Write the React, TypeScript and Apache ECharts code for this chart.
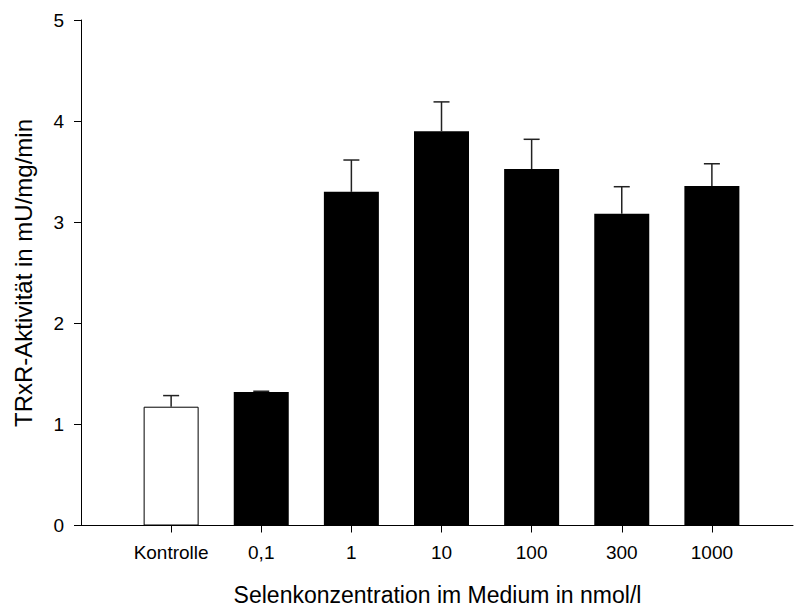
import React, { useEffect, useRef } from "react";
import * as echarts from "echarts";

const categories = ["Kontrolle", "0,1", "1", "10", "100", "300", "1000"];
const values = [1.175, 1.32, 3.3, 3.9, 3.526, 3.084, 3.358];
const errors = [0.11, 0.008, 0.315, 0.29, 0.294, 0.267, 0.22];
const yTicks = [0, 1, 2, 3, 4, 5];
const xTitle = "Selenkonzentration im Medium in nmol/l";
const yTitle = "TRxR-Aktivität in mU/mg/min";

const FONT = "'Liberation Sans', Arial, Helvetica, sans-serif";

export default function App() {
  const ref = useRef<HTMLDivElement>(null);
  useEffect(() => {
    if (!ref.current) return;
    const chart = echarts.init(ref.current, undefined, { renderer: "svg" });
    const idx = categories.map((_, i) => i);
    chart.setOption({
      animation: false,
      backgroundColor: "#fff",
      grid: { left: 81, right: 1, top: 20, bottom: 86.5, containLabel: false },
      xAxis: {
        type: "value",
        min: -1,
        max: 6.9,
        interval: 1,
        splitLine: { show: false },
        axisLine: { show: true, onZero: false, lineStyle: { color: "#000", width: 1 } },
        axisTick: {
          show: true,
          length: 7,
          customValues: idx,
          lineStyle: { color: "#000", width: 1 },
        },
        axisLabel: {
          show: true,
          customValues: idx,
          margin: 17,
          color: "#000",
          fontSize: 19,
          fontFamily: FONT,
          formatter: (v: number) => categories[Math.round(v)] ?? "",
        },
      },
      yAxis: {
        type: "value",
        min: yTicks[0],
        max: yTicks[yTicks.length - 1],
        interval: 1,
        splitLine: { show: false },
        axisLine: { show: true, onZero: false, lineStyle: { color: "#000", width: 1 } },
        axisTick: { show: true, length: 7, lineStyle: { color: "#000", width: 1 } },
        axisLabel: { margin: 17, color: "#000", fontSize: 19, fontFamily: FONT },
      },
      graphic: [
        {
          type: "text",
          x: 437.5,
          y: 595,
          style: {
            text: xTitle,
            fontSize: 23,
            fontFamily: FONT,
            fill: "#000",
            align: "center",
            verticalAlign: "middle",
          },
        },
        {
          type: "text",
          x: 23,
          y: 273,
          rotation: Math.PI / 2,
          style: {
            text: yTitle,
            fontSize: 24,
            fontFamily: FONT,
            fill: "#000",
            align: "center",
            verticalAlign: "middle",
          },
        },
      ],
      series: [
        {
          type: "bar",
          barWidth: 55,
          data: values.map((v, i) => ({
            value: [i, v],
            itemStyle:
              i === 0
                ? { color: "#fff", borderColor: "#000", borderWidth: 1 }
                : { color: "#000" },
          })),
        },
        {
          type: "custom",
          z: 5,
          data: values.map((v, i) => [i, v, errors[i]]),
          renderItem: (params: any, api: any) => {
            const x = api.value(0);
            const y = api.value(1);
            const e = api.value(2);
            const p0 = api.coord([x, y]);
            const p1 = api.coord([x, y + e]);
            const style = { stroke: "#222", lineWidth: 1.5 };
            return {
              type: "group",
              children: [
                { type: "line", shape: { x1: p0[0], y1: p0[1], x2: p1[0], y2: p1[1] }, style },
                { type: "line", shape: { x1: p1[0] - 8, y1: p1[1], x2: p1[0] + 8, y2: p1[1] }, style },
              ],
            };
          },
        },
      ],
    });
    return () => chart.dispose();
  }, []);
  return (
    <div
      ref={ref}
      style={{ position: "fixed", left: 0, top: 0, width: 794, height: 612, background: "#fff" }}
    />
  );
}
